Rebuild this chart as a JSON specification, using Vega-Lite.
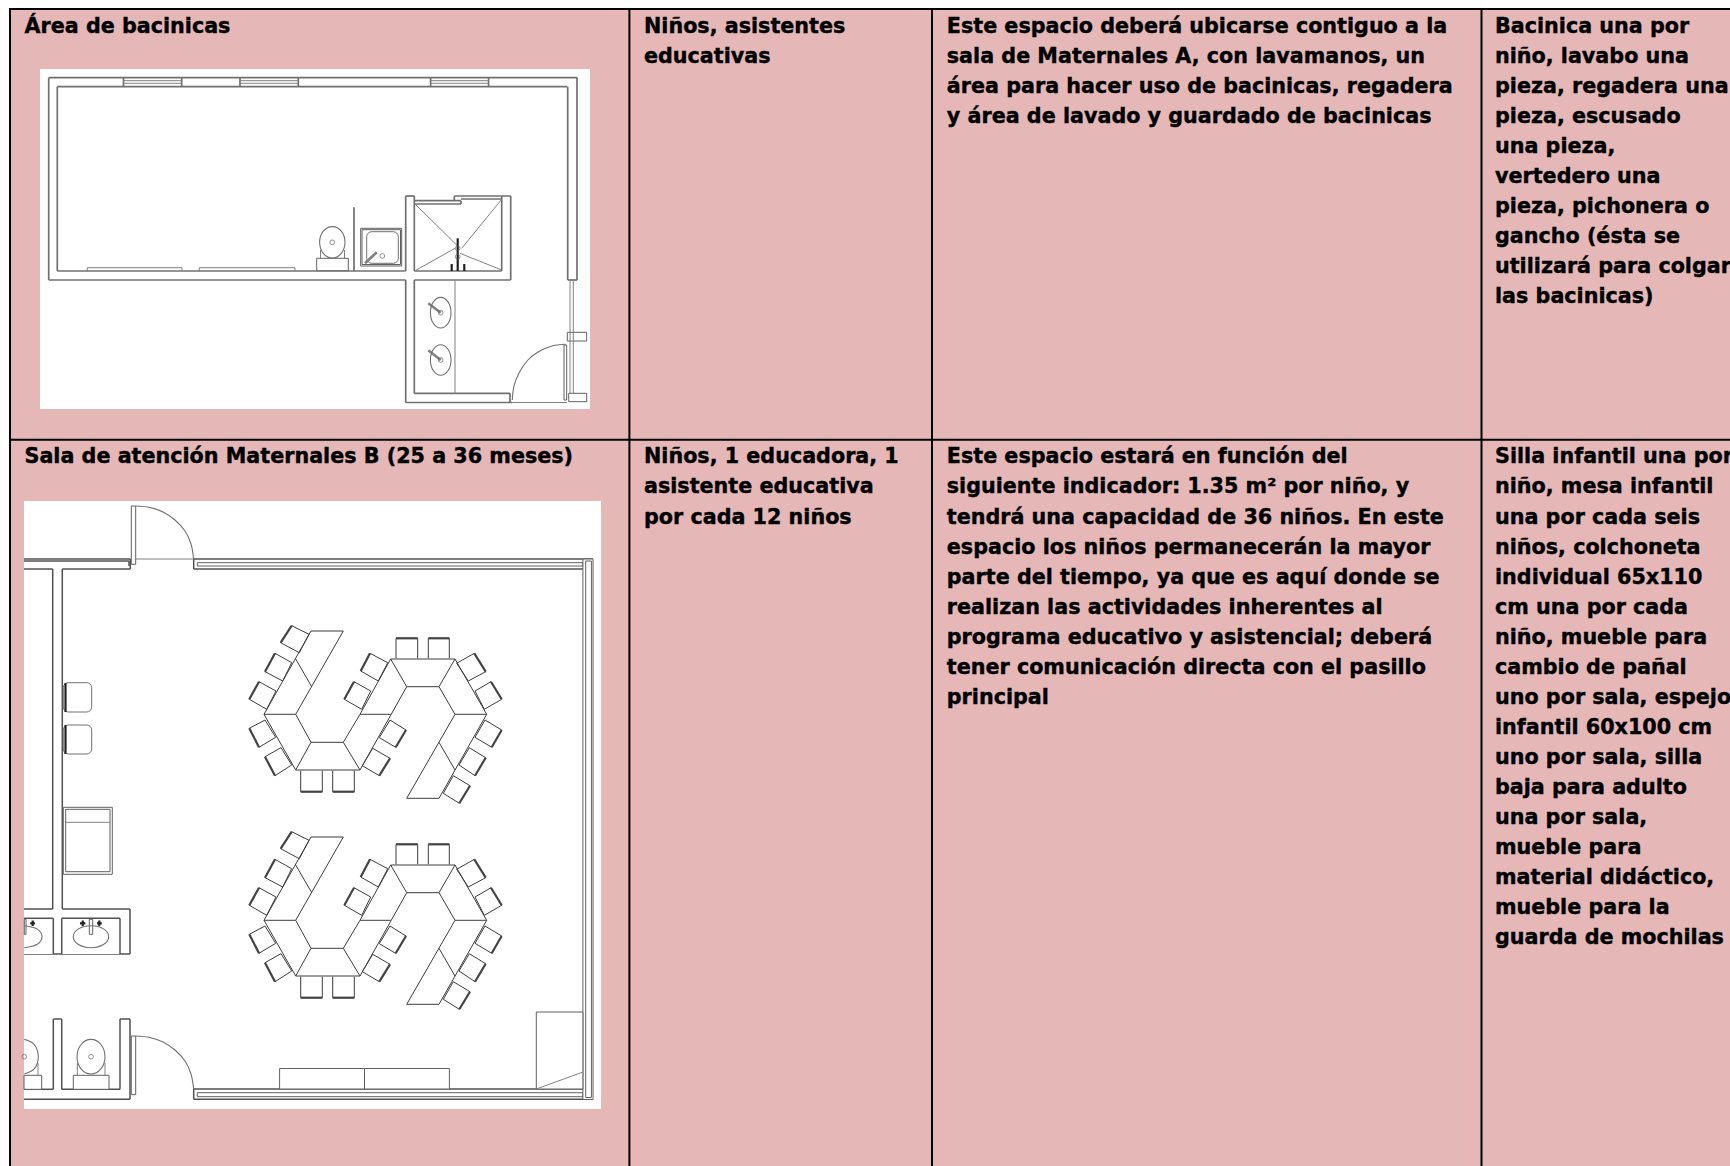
{"$schema":"https://vega.github.io/schema/vega-lite/v6.json","width":1730,"height":1166,"padding":0,"autosize":{"type":"fit","contains":"padding"},"background":"#ffffff","config":{"view":{"stroke":null}},
"datasets":{
"cells":[{"x":10,"x2":629.4,"y":9,"y2":440},{"x":629.4,"x2":932,"y":9,"y2":440},{"x":932,"x2":1481.5,"y":9,"y2":440},{"x":1481.5,"x2":1730,"y":9,"y2":440},{"x":10,"x2":629.4,"y":440,"y2":1166},{"x":629.4,"x2":932,"y":440,"y2":1166},{"x":932,"x2":1481.5,"y":440,"y2":1166},{"x":1481.5,"x2":1730,"y":440,"y2":1166}],
"grid":[{"x":9,"x2":1730,"y":9,"y2":9},{"x":9,"x2":1730,"y":439.7,"y2":439.7},{"x":10,"x2":10,"y":8,"y2":1166},{"x":629.4,"x2":629.4,"y":9,"y2":1166},{"x":932,"x2":932,"y":9,"y2":1166},{"x":1481.5,"x2":1481.5,"y":9,"y2":1166}],
"blanks":[{"x":40,"x2":590,"y":69,"y2":409},{"x":24,"x2":601,"y":501,"y2":1109}],
"walls":[{"x":48.7,"y":77.7,"x2":577.3,"y2":77.7},{"x":57.3,"y":86.7,"x2":567.3,"y2":86.7},{"x":123.5,"y":77.7,"x2":123.5,"y2":86.7},{"x":181.7,"y":77.7,"x2":181.7,"y2":86.7},{"x":240,"y":77.7,"x2":240,"y2":86.7},{"x":298.3,"y":77.7,"x2":298.3,"y2":86.7},{"x":430.6,"y":77.7,"x2":430.6,"y2":86.7},{"x":488.6,"y":77.7,"x2":488.6,"y2":86.7},{"x":48.7,"y":77.7,"x2":48.7,"y2":280},{"x":57.3,"y":86.7,"x2":57.3,"y2":271},{"x":48.7,"y":280,"x2":405.7,"y2":280},{"x":57.3,"y":271,"x2":405.7,"y2":271},{"x":405.7,"y":196,"x2":405.7,"y2":271},{"x":405.7,"y":280,"x2":405.7,"y2":402.5},{"x":414.3,"y":196,"x2":414.3,"y2":271},{"x":414.3,"y":280,"x2":414.3,"y2":393.3},{"x":405.7,"y":196,"x2":414.3,"y2":196},{"x":414.3,"y":271,"x2":501.7,"y2":271},{"x":414.3,"y":280,"x2":510.7,"y2":280},{"x":510.7,"y":196,"x2":510.7,"y2":280},{"x":501.7,"y":196,"x2":501.7,"y2":271},{"x":454.3,"y":196,"x2":510.7,"y2":196},{"x":414.3,"y":200.7,"x2":461,"y2":200.7},{"x":414.3,"y":204,"x2":461,"y2":204},{"x":461,"y":200.7,"x2":461,"y2":204},{"x":454.3,"y":196,"x2":454.3,"y2":200.7},{"x":461,"y":199,"x2":501.7,"y2":199},{"x":405.7,"y":402.5,"x2":512.3,"y2":402.5},{"x":414.3,"y":393.3,"x2":510,"y2":393.3},{"x":510,"y":393.3,"x2":510,"y2":402.5},{"x":567.7,"y":86.7,"x2":567.7,"y2":280},{"x":577,"y":77.7,"x2":577,"y2":280},{"x":567.7,"y":280,"x2":577,"y2":280},{"x":354,"y":207.3,"x2":354,"y2":271}],
"walls2":[{"x":24,"y":559,"x2":130.3,"y2":559},{"x":24,"y":561,"x2":129,"y2":561},{"x":24,"y":569,"x2":52.7,"y2":569},{"x":62.3,"y":569,"x2":130.3,"y2":569},{"x":130.3,"y":559,"x2":130.3,"y2":569},{"x":129,"y":561,"x2":129,"y2":566},{"x":193.7,"y":559,"x2":593,"y2":559},{"x":193.7,"y":559,"x2":193.7,"y2":569},{"x":193.7,"y":569,"x2":582.9,"y2":569},{"x":193.7,"y":1089,"x2":582.9,"y2":1089},{"x":193.7,"y":1089,"x2":193.7,"y2":1099.3},{"x":193.7,"y":1099.3,"x2":593,"y2":1099.3},{"x":52.7,"y":569,"x2":52.7,"y2":909},{"x":62.3,"y":569,"x2":62.3,"y2":909},{"x":24,"y":909,"x2":52.7,"y2":909},{"x":62.3,"y":909,"x2":130,"y2":909},{"x":130,"y":909,"x2":130,"y2":954},{"x":24,"y":918.3,"x2":53.3,"y2":918.3},{"x":61.7,"y":918.3,"x2":120,"y2":918.3},{"x":53.3,"y":918.3,"x2":53.3,"y2":954},{"x":61.7,"y":918.3,"x2":61.7,"y2":954},{"x":120,"y":918.3,"x2":120,"y2":954},{"x":53.3,"y":954,"x2":61.7,"y2":954},{"x":120,"y":954,"x2":130,"y2":954},{"x":53.3,"y":1019,"x2":53.3,"y2":1089.3},{"x":61.7,"y":1019,"x2":61.7,"y2":1089.3},{"x":53.3,"y":1019,"x2":61.7,"y2":1019},{"x":120,"y":1019,"x2":120,"y2":1089.3},{"x":130,"y":1019,"x2":130,"y2":1099.3},{"x":120,"y":1019,"x2":130,"y2":1019},{"x":24,"y":1089.3,"x2":53.3,"y2":1089.3},{"x":61.7,"y":1089.3,"x2":120,"y2":1089.3},{"x":24,"y":1099.3,"x2":130,"y2":1099.3}],
"thin":[{"x":135.7,"y":559,"x2":193.7,"y2":559},{"x":24,"y":954.5,"x2":130,"y2":954.5},{"x":512.3,"y":402.5,"x2":567,"y2":402.5},{"x":455,"y":280,"x2":455,"y2":393.3},{"x":570,"y":280,"x2":570,"y2":393},{"x":573.3,"y":280,"x2":573.3,"y2":393},{"x":414.3,"y":203.3,"x2":456.7,"y2":245},{"x":501.7,"y":199.3,"x2":461.7,"y2":248.3},{"x":415,"y":270.7,"x2":455,"y2":248.3},{"x":501.7,"y":270,"x2":460,"y2":253.3},{"x":320.5,"y":250,"x2":320.5,"y2":258.3},{"x":344.5,"y":250,"x2":344.5,"y2":258.3},{"x":77.3,"y":1063,"x2":77.3,"y2":1075.3},{"x":105,"y":1063,"x2":105,"y2":1075.3},{"x":38,"y":1063,"x2":38,"y2":1075.3},{"x":536.3,"y":1089,"x2":582.9,"y2":1072},{"x":87.3,"y":267.7,"x2":182,"y2":267.7},{"x":87.3,"y":267.7,"x2":87.3,"y2":271},{"x":182,"y":267.7,"x2":182,"y2":271},{"x":199.3,"y":267.7,"x2":295,"y2":267.7},{"x":199.3,"y":267.7,"x2":199.3,"y2":271},{"x":295,"y":267.7,"x2":295,"y2":271},{"x":65.7,"y":822.3,"x2":110,"y2":822.3},{"x":124,"y":80.7,"x2":181.7,"y2":80.7},{"x":124,"y":83.3,"x2":181.7,"y2":83.3},{"x":240.7,"y":80.7,"x2":298.3,"y2":80.7},{"x":240.7,"y":83.3,"x2":298.3,"y2":83.3},{"x":430.6,"y":80.7,"x2":488.6,"y2":80.7},{"x":430.6,"y":83.3,"x2":488.6,"y2":83.3}],
"thick":[{"x":365,"y":263.3,"x2":376.7,"y2":252.3},{"x":428.3,"y":303.3,"x2":440.7,"y2":312.7},{"x":428.3,"y":350.3,"x2":440.7,"y2":360}],
"heavy":[{"x":457.7,"y":238.3,"x2":457.7,"y2":271},{"x":451.7,"y":264,"x2":451.7,"y2":271},{"x":464.3,"y":264,"x2":464.3,"y2":271},{"x":65.5,"y":683,"x2":65.5,"y2":712},{"x":65.5,"y":725,"x2":65.5,"y2":754},{"x":80,"y":923.3,"x2":85.4,"y2":923.3},{"x":82.7,"y":920.5,"x2":82.7,"y2":926},{"x":97,"y":923.3,"x2":101.8,"y2":923.3},{"x":99.3,"y":920.5,"x2":99.3,"y2":926},{"x":30.3,"y":923.3,"x2":35,"y2":923.3},{"x":32.7,"y":920.5,"x2":32.7,"y2":926}],
"boxes":[{"x":567.3,"x2":586.7,"y":332.3,"y2":341},{"x":568.7,"x2":586.7,"y":393.3,"y2":401.7},{"x":564,"x2":566.7,"y":345,"y2":400},{"x":316.7,"x2":348.3,"y":258.3,"y2":270.7},{"x":360.7,"x2":401.7,"y":228.3,"y2":266},{"x":362,"x2":400.5,"y":229.7,"y2":264.5},{"x":63.3,"x2":112.3,"y":807.3,"y2":874.3},{"x":65.7,"x2":110,"y":809.3,"y2":871.7},{"x":131.3,"x2":135.7,"y":506,"y2":564.3},{"x":131.3,"x2":135.7,"y":1036,"y2":1094.7},{"x":73.3,"x2":109,"y":1075.3,"y2":1089.3},{"x":24,"x2":41.7,"y":1075.3,"y2":1089.3},{"x":89.3,"x2":92.7,"y":919.3,"y2":934.3},{"x":24.3,"x2":26,"y":919.3,"y2":934.3},{"x":197.3,"x2":582.9,"y":562.7,"y2":566},{"x":197.3,"x2":582.9,"y":1092.7,"y2":1096.7},{"x":582.9,"x2":593,"y":559,"y2":1099.5},{"x":585.7,"x2":591.4,"y":561,"y2":1097.5},{"x":536.3,"x2":582.9,"y":1012,"y2":1089},{"x":279.6,"x2":364.5,"y":1068.5,"y2":1089},{"x":364.5,"x2":449.4,"y":1068.5,"y2":1089}],
"rounded":[{"x":366.7,"x2":398.3,"y":231.7,"y2":263.3},{"x":63.3,"x2":91.7,"y":682.7,"y2":712},{"x":63.3,"x2":91.7,"y":725,"y2":754}],
"ovals":[{"id":"a","i":1,"x":345,"y":242.3},{"id":"a","i":2,"x":341.3,"y":253.4},{"id":"a","i":3,"x":332.3,"y":258},{"id":"a","i":4,"x":323.3,"y":253.4},{"id":"a","i":5,"x":319.6,"y":242.3},{"id":"a","i":6,"x":323.3,"y":231.2},{"id":"a","i":7,"x":332.3,"y":226.6},{"id":"a","i":8,"x":341.3,"y":231.2},
{"id":"b","i":1,"x":451,"y":312.7},{"id":"b","i":2,"x":448,"y":323.5},{"id":"b","i":3,"x":440.7,"y":328},{"id":"b","i":4,"x":433.4,"y":323.5},{"id":"b","i":5,"x":430.4,"y":312.7},{"id":"b","i":6,"x":433.4,"y":301.9},{"id":"b","i":7,"x":440.7,"y":297.4},{"id":"b","i":8,"x":448,"y":301.9},
{"id":"c","i":1,"x":451,"y":360},{"id":"c","i":2,"x":448,"y":370.8},{"id":"c","i":3,"x":440.7,"y":375.3},{"id":"c","i":4,"x":433.4,"y":370.8},{"id":"c","i":5,"x":430.4,"y":360},{"id":"c","i":6,"x":433.4,"y":349.2},{"id":"c","i":7,"x":440.7,"y":344.7},{"id":"c","i":8,"x":448,"y":349.2},
{"id":"d","i":1,"x":108.7,"y":936.7},{"id":"d","i":2,"x":103.5,"y":944.5},{"id":"d","i":3,"x":91,"y":947.7},{"id":"d","i":4,"x":78.5,"y":944.5},{"id":"d","i":5,"x":73.3,"y":936.7},{"id":"d","i":6,"x":78.5,"y":928.9},{"id":"d","i":7,"x":91,"y":925.7},{"id":"d","i":8,"x":103.5,"y":928.9},
{"id":"e","i":1,"x":105,"y":1056.7},{"id":"e","i":2,"x":100.9,"y":1068.9},{"id":"e","i":3,"x":91,"y":1074},{"id":"e","i":4,"x":81.1,"y":1068.9},{"id":"e","i":5,"x":77,"y":1056.7},{"id":"e","i":6,"x":81.1,"y":1044.5},{"id":"e","i":7,"x":91,"y":1039.4},{"id":"e","i":8,"x":100.9,"y":1044.5}],
"arcs":[{"id":"a","i":1,"x":565.7,"y":344.3},{"id":"a","i":2,"x":552,"y":346},{"id":"a","i":3,"x":538,"y":352},{"id":"a","i":4,"x":527,"y":361},{"id":"a","i":5,"x":519,"y":373},{"id":"a","i":6,"x":514,"y":386},{"id":"a","i":7,"x":512.3,"y":400},
{"id":"b","i":1,"x":135.7,"y":506},{"id":"b","i":2,"x":150,"y":507.5},{"id":"b","i":3,"x":163,"y":512},{"id":"b","i":4,"x":175,"y":520},{"id":"b","i":5,"x":185,"y":531},{"id":"b","i":6,"x":191,"y":544},{"id":"b","i":7,"x":193.7,"y":559},
{"id":"c","i":1,"x":135.7,"y":1036},{"id":"c","i":2,"x":150,"y":1037.5},{"id":"c","i":3,"x":163,"y":1042},{"id":"c","i":4,"x":175,"y":1050},{"id":"c","i":5,"x":185,"y":1061},{"id":"c","i":6,"x":191,"y":1074},{"id":"c","i":7,"x":193.7,"y":1089},
{"id":"d","i":1,"x":24.3,"y":925.7},{"id":"d","i":2,"x":36.8,"y":928.9},{"id":"d","i":3,"x":42,"y":936.7},{"id":"d","i":4,"x":36.8,"y":944.5},{"id":"d","i":5,"x":24.3,"y":947.7},
{"id":"e","i":1,"x":24.3,"y":1039.4},{"id":"e","i":2,"x":34.2,"y":1044.5},{"id":"e","i":3,"x":38.3,"y":1056.7},{"id":"e","i":4,"x":34.2,"y":1068.9},{"id":"e","i":5,"x":24.3,"y":1074}],
"dots":[{"x":332.3,"y":242.3},{"x":91,"y":1056.7},{"x":24.3,"y":1056.7},{"x":382.3,"y":256},{"x":457.7,"y":248.3},{"x":457.7,"y":256.7},{"x":440.7,"y":312.7},{"x":440.7,"y":360}],
"furn":[
{"x":311,"y":631,"x2":343.3,"y2":631},{"x":343.3,"y":631,"x2":295.7,"y2":714.3},{"x":311,"y":631,"x2":264,"y2":714.3},{"x":264,"y":714.3,"x2":295.7,"y2":714.3},{"x":295.7,"y":659,"x2":311.7,"y2":686.7},{"x":264,"y":714.3,"x2":295.7,"y2":770},{"x":295.7,"y":714.3,"x2":311,"y2":742.3},{"x":311,"y":742.3,"x2":343.3,"y2":742.3},{"x":343.3,"y":742.3,"x2":360,"y2":714.3},{"x":311,"y":742.3,"x2":295.7,"y2":770},{"x":343.3,"y":742.3,"x2":360,"y2":770},{"x":295.7,"y":770,"x2":360,"y2":770},{"x":360,"y":770,"x2":406.7,"y2":686.7},{"x":360,"y":714.3,"x2":390.7,"y2":659},{"x":360,"y":714.3,"x2":390.7,"y2":714.3},{"x":390.7,"y":659,"x2":455,"y2":659},{"x":406.7,"y":686.7,"x2":439,"y2":686.7},{"x":390.7,"y":659,"x2":406.7,"y2":686.7},{"x":439,"y":686.7,"x2":455,"y2":659},{"x":455,"y":659,"x2":486.7,"y2":714.3},{"x":439,"y":686.7,"x2":455,"y2":714.3},{"x":455,"y":714.3,"x2":486.7,"y2":714.3},{"x":455,"y":714.3,"x2":406.7,"y2":798.3},{"x":486.7,"y":714.3,"x2":439,"y2":798.3},{"x":406.7,"y":798.3,"x2":439,"y2":798.3},{"x":439,"y":742.3,"x2":455,"y2":770},
{"x":311,"y":837,"x2":343.3,"y2":837},{"x":343.3,"y":837,"x2":295.7,"y2":920.3},{"x":311,"y":837,"x2":264,"y2":920.3},{"x":264,"y":920.3,"x2":295.7,"y2":920.3},{"x":295.7,"y":865,"x2":311.7,"y2":892.7},{"x":264,"y":920.3,"x2":295.7,"y2":976},{"x":295.7,"y":920.3,"x2":311,"y2":948.3},{"x":311,"y":948.3,"x2":343.3,"y2":948.3},{"x":343.3,"y":948.3,"x2":360,"y2":920.3},{"x":311,"y":948.3,"x2":295.7,"y2":976},{"x":343.3,"y":948.3,"x2":360,"y2":976},{"x":295.7,"y":976,"x2":360,"y2":976},{"x":360,"y":976,"x2":406.7,"y2":892.7},{"x":360,"y":920.3,"x2":390.7,"y2":865},{"x":360,"y":920.3,"x2":390.7,"y2":920.3},{"x":390.7,"y":865,"x2":455,"y2":865},{"x":406.7,"y":892.7,"x2":439,"y2":892.7},{"x":390.7,"y":865,"x2":406.7,"y2":892.7},{"x":439,"y":892.7,"x2":455,"y2":865},{"x":455,"y":865,"x2":486.7,"y2":920.3},{"x":439,"y":892.7,"x2":455,"y2":920.3},{"x":455,"y":920.3,"x2":486.7,"y2":920.3},{"x":455,"y":920.3,"x2":406.7,"y2":1004.3},{"x":486.7,"y":920.3,"x2":439,"y2":1004.3},{"x":406.7,"y":1004.3,"x2":439,"y2":1004.3},{"x":439,"y":948.3,"x2":455,"y2":976},
{"x":291.7,"y":625.7,"x2":309,"y2":634.3},{"x":309,"y":634.3,"x2":299.3,"y2":652.7},{"x":299.3,"y":652.7,"x2":280.7,"y2":642.7},{"x":280.7,"y":642.7,"x2":291.7,"y2":625.7},
{"x":275,"y":653.3,"x2":291.7,"y2":662.7},{"x":291.7,"y":662.7,"x2":282.7,"y2":681},{"x":282.7,"y":681,"x2":265,"y2":671.7},{"x":265,"y":671.7,"x2":275,"y2":653.3},
{"x":259,"y":681.7,"x2":276,"y2":691},{"x":276,"y":691,"x2":266.7,"y2":709.3},{"x":266.7,"y":709.3,"x2":249.3,"y2":699.3},{"x":249.3,"y":699.3,"x2":259,"y2":681.7},
{"x":249.3,"y":728.3,"x2":265,"y2":720},{"x":265,"y":720,"x2":275.7,"y2":737.3},{"x":275.7,"y":737.3,"x2":259,"y2":747.3},{"x":259,"y":747.3,"x2":249.3,"y2":728.3},
{"x":265,"y":756.7,"x2":281,"y2":747.7},{"x":281,"y":747.7,"x2":291.7,"y2":765},{"x":291.7,"y":765,"x2":275,"y2":775.7},{"x":275,"y":775.7,"x2":265,"y2":756.7},
{"x":300.7,"y":770.7,"x2":300.7,"y2":791.7},{"x":322.3,"y":770.7,"x2":322.3,"y2":791.7},{"x":300.7,"y":791.7,"x2":322.3,"y2":791.7},
{"x":332.7,"y":770.7,"x2":332.7,"y2":791.7},{"x":354.3,"y":770.7,"x2":354.3,"y2":791.7},{"x":332.7,"y":791.7,"x2":354.3,"y2":791.7},
{"x":362.3,"y":765.7,"x2":372.7,"y2":748.3},{"x":372.7,"y":748.3,"x2":390,"y2":758.3},{"x":390,"y":758.3,"x2":379.3,"y2":775.7},{"x":379.3,"y":775.7,"x2":362.3,"y2":765.7},
{"x":379.3,"y":737.7,"x2":390,"y2":720},{"x":390,"y":720,"x2":406,"y2":730},{"x":406,"y":730,"x2":395.7,"y2":747.3},{"x":395.7,"y":747.3,"x2":379.3,"y2":737.7},
{"x":370,"y":653.3,"x2":387.7,"y2":662.7},{"x":387.7,"y":662.7,"x2":378.3,"y2":681},{"x":378.3,"y":681,"x2":360.7,"y2":671},{"x":360.7,"y":671,"x2":370,"y2":653.3},
{"x":354,"y":681.7,"x2":370.7,"y2":691},{"x":370.7,"y":691,"x2":361.7,"y2":709.3},{"x":361.7,"y":709.3,"x2":344.3,"y2":699.3},{"x":344.3,"y":699.3,"x2":354,"y2":681.7},
{"x":396,"y":638.3,"x2":396,"y2":658.3},{"x":417.7,"y":638.3,"x2":417.7,"y2":658.3},{"x":396,"y":638.3,"x2":417.7,"y2":638.3},
{"x":428.3,"y":638.3,"x2":428.3,"y2":658.3},{"x":449.3,"y":638.3,"x2":449.3,"y2":658.3},{"x":428.3,"y":638.3,"x2":449.3,"y2":638.3},
{"x":456.7,"y":663.3,"x2":474.3,"y2":653.3},{"x":474.3,"y":653.3,"x2":485.7,"y2":671.7},{"x":485.7,"y":671.7,"x2":468.3,"y2":681},{"x":468.3,"y":681,"x2":456.7,"y2":663.3},
{"x":475,"y":691,"x2":491,"y2":681.7},{"x":491,"y":681.7,"x2":501.7,"y2":699.3},{"x":501.7,"y":699.3,"x2":484.3,"y2":709.3},{"x":484.3,"y":709.3,"x2":475,"y2":691},
{"x":475,"y":737.3,"x2":485,"y2":720},{"x":485,"y":720,"x2":501.7,"y2":730},{"x":501.7,"y":730,"x2":491.7,"y2":747.3},{"x":491.7,"y":747.3,"x2":475,"y2":737.3},
{"x":459,"y":765,"x2":469.3,"y2":747.7},{"x":469.3,"y":747.7,"x2":485.7,"y2":757.7},{"x":485.7,"y":757.7,"x2":475,"y2":775.7},{"x":475,"y":775.7,"x2":459,"y2":765},
{"x":443.3,"y":793.3,"x2":453.3,"y2":775.7},{"x":453.3,"y":775.7,"x2":470,"y2":785.7},{"x":470,"y":785.7,"x2":459.3,"y2":803.3},{"x":459.3,"y":803.3,"x2":443.3,"y2":793.3},
{"x":291.7,"y":831.7,"x2":309,"y2":840.3},{"x":309,"y":840.3,"x2":299.3,"y2":858.7},{"x":299.3,"y":858.7,"x2":280.7,"y2":848.7},{"x":280.7,"y":848.7,"x2":291.7,"y2":831.7},
{"x":275,"y":859.3,"x2":291.7,"y2":868.7},{"x":291.7,"y":868.7,"x2":282.7,"y2":887},{"x":282.7,"y":887,"x2":265,"y2":877.7},{"x":265,"y":877.7,"x2":275,"y2":859.3},
{"x":259,"y":887.7,"x2":276,"y2":897},{"x":276,"y":897,"x2":266.7,"y2":915.3},{"x":266.7,"y":915.3,"x2":249.3,"y2":905.3},{"x":249.3,"y":905.3,"x2":259,"y2":887.7},
{"x":249.3,"y":934.3,"x2":265,"y2":926},{"x":265,"y":926,"x2":275.7,"y2":943.3},{"x":275.7,"y":943.3,"x2":259,"y2":953.3},{"x":259,"y":953.3,"x2":249.3,"y2":934.3},
{"x":265,"y":962.7,"x2":281,"y2":953.7},{"x":281,"y":953.7,"x2":291.7,"y2":971},{"x":291.7,"y":971,"x2":275,"y2":981.7},{"x":275,"y":981.7,"x2":265,"y2":962.7},
{"x":300.7,"y":976.7,"x2":300.7,"y2":997.7},{"x":322.3,"y":976.7,"x2":322.3,"y2":997.7},{"x":300.7,"y":997.7,"x2":322.3,"y2":997.7},
{"x":332.7,"y":976.7,"x2":332.7,"y2":997.7},{"x":354.3,"y":976.7,"x2":354.3,"y2":997.7},{"x":332.7,"y":997.7,"x2":354.3,"y2":997.7},
{"x":362.3,"y":971.7,"x2":372.7,"y2":954.3},{"x":372.7,"y":954.3,"x2":390,"y2":964.3},{"x":390,"y":964.3,"x2":379.3,"y2":981.7},{"x":379.3,"y":981.7,"x2":362.3,"y2":971.7},
{"x":379.3,"y":943.7,"x2":390,"y2":926},{"x":390,"y":926,"x2":406,"y2":936},{"x":406,"y":936,"x2":395.7,"y2":953.3},{"x":395.7,"y":953.3,"x2":379.3,"y2":943.7},
{"x":370,"y":859.3,"x2":387.7,"y2":868.7},{"x":387.7,"y":868.7,"x2":378.3,"y2":887},{"x":378.3,"y":887,"x2":360.7,"y2":877},{"x":360.7,"y":877,"x2":370,"y2":859.3},
{"x":354,"y":887.7,"x2":370.7,"y2":897},{"x":370.7,"y":897,"x2":361.7,"y2":915.3},{"x":361.7,"y":915.3,"x2":344.3,"y2":905.3},{"x":344.3,"y":905.3,"x2":354,"y2":887.7},
{"x":396,"y":844.3,"x2":396,"y2":864.3},{"x":417.7,"y":844.3,"x2":417.7,"y2":864.3},{"x":396,"y":844.3,"x2":417.7,"y2":844.3},
{"x":428.3,"y":844.3,"x2":428.3,"y2":864.3},{"x":449.3,"y":844.3,"x2":449.3,"y2":864.3},{"x":428.3,"y":844.3,"x2":449.3,"y2":844.3},
{"x":456.7,"y":869.3,"x2":474.3,"y2":859.3},{"x":474.3,"y":859.3,"x2":485.7,"y2":877.7},{"x":485.7,"y":877.7,"x2":468.3,"y2":887},{"x":468.3,"y":887,"x2":456.7,"y2":869.3},
{"x":475,"y":897,"x2":491,"y2":887.7},{"x":491,"y":887.7,"x2":501.7,"y2":905.3},{"x":501.7,"y":905.3,"x2":484.3,"y2":915.3},{"x":484.3,"y":915.3,"x2":475,"y2":897},
{"x":475,"y":943.3,"x2":485,"y2":926},{"x":485,"y":926,"x2":501.7,"y2":936},{"x":501.7,"y":936,"x2":491.7,"y2":953.3},{"x":491.7,"y":953.3,"x2":475,"y2":943.3},
{"x":459,"y":971,"x2":469.3,"y2":953.7},{"x":469.3,"y":953.7,"x2":485.7,"y2":963.7},{"x":485.7,"y":963.7,"x2":475,"y2":981.7},{"x":475,"y":981.7,"x2":459,"y2":971},
{"x":443.3,"y":999.3,"x2":453.3,"y2":981.7},{"x":453.3,"y":981.7,"x2":470,"y2":991.7},{"x":470,"y":991.7,"x2":459.3,"y2":1009.3},{"x":459.3,"y":1009.3,"x2":443.3,"y2":999.3}],
"backs":[{"x":291.7,"y":625.7,"x2":280.7,"y2":642.7},{"x":275,"y":653.3,"x2":265,"y2":671.7},{"x":259,"y":681.7,"x2":249.3,"y2":699.3},{"x":249.3,"y":728.3,"x2":259,"y2":747.3},{"x":265,"y":756.7,"x2":275,"y2":775.7},{"x":300.7,"y":791.7,"x2":322.3,"y2":791.7},{"x":332.7,"y":791.7,"x2":354.3,"y2":791.7},{"x":390,"y":758.3,"x2":379.3,"y2":775.7},{"x":406,"y":730,"x2":395.7,"y2":747.3},{"x":370,"y":653.3,"x2":360.7,"y2":671},{"x":354,"y":681.7,"x2":344.3,"y2":699.3},{"x":396,"y":638.3,"x2":417.7,"y2":638.3},{"x":428.3,"y":638.3,"x2":449.3,"y2":638.3},{"x":474.3,"y":653.3,"x2":485.7,"y2":671.7},{"x":491,"y":681.7,"x2":501.7,"y2":699.3},{"x":501.7,"y":730,"x2":491.7,"y2":747.3},{"x":485.7,"y":757.7,"x2":475,"y2":775.7},{"x":470,"y":785.7,"x2":459.3,"y2":803.3},
{"x":291.7,"y":831.7,"x2":280.7,"y2":848.7},{"x":275,"y":859.3,"x2":265,"y2":877.7},{"x":259,"y":887.7,"x2":249.3,"y2":905.3},{"x":249.3,"y":934.3,"x2":259,"y2":953.3},{"x":265,"y":962.7,"x2":275,"y2":981.7},{"x":300.7,"y":997.7,"x2":322.3,"y2":997.7},{"x":332.7,"y":997.7,"x2":354.3,"y2":997.7},{"x":390,"y":964.3,"x2":379.3,"y2":981.7},{"x":406,"y":936,"x2":395.7,"y2":953.3},{"x":370,"y":859.3,"x2":360.7,"y2":877},{"x":354,"y":887.7,"x2":344.3,"y2":905.3},{"x":396,"y":844.3,"x2":417.7,"y2":844.3},{"x":428.3,"y":844.3,"x2":449.3,"y2":844.3},{"x":474.3,"y":859.3,"x2":485.7,"y2":877.7},{"x":491,"y":887.7,"x2":501.7,"y2":905.3},{"x":501.7,"y":936,"x2":491.7,"y2":953.3},{"x":485.7,"y":963.7,"x2":475,"y2":981.7},{"x":470,"y":991.7,"x2":459.3,"y2":1009.3}],
"text":[{"x":24.5,"y":33,"t":"Área de bacinicas"},{"x":24.5,"y":463,"t":"Sala de atención Maternales B (25 a 36 meses)"},
{"x":644,"y":33,"t":"Niños, asistentes"},{"x":644,"y":63,"t":"educativas"},{"x":644,"y":463,"t":"Niños, 1 educadora, 1"},{"x":644,"y":493,"t":"asistente educativa"},{"x":644,"y":524,"t":"por cada 12 niños"},
{"x":946.8,"y":33,"t":"Este espacio deberá ubicarse contiguo a la"},{"x":946.8,"y":63,"t":"sala de Maternales A, con lavamanos, un"},{"x":946.8,"y":93,"t":"área para hacer uso de bacinicas, regadera"},{"x":946.8,"y":123,"t":"y área de lavado y guardado de bacinicas"},
{"x":946.8,"y":463,"t":"Este espacio estará en función del"},{"x":946.8,"y":493,"t":"siguiente indicador: 1.35 m² por niño, y"},{"x":946.8,"y":524,"t":"tendrá una capacidad de 36 niños. En este"},{"x":946.8,"y":554,"t":"espacio los niños permanecerán la mayor"},{"x":946.8,"y":584,"t":"parte del tiempo, ya que es aquí donde se"},{"x":946.8,"y":614,"t":"realizan las actividades inherentes al"},{"x":946.8,"y":644,"t":"programa educativo y asistencial; deberá"},{"x":946.8,"y":674,"t":"tener comunicación directa con el pasillo"},{"x":946.8,"y":704,"t":"principal"},
{"x":1495,"y":33,"t":"Bacinica una por"},{"x":1495,"y":63,"t":"niño, lavabo una"},{"x":1495,"y":93,"t":"pieza, regadera una"},{"x":1495,"y":123,"t":"pieza, escusado"},{"x":1495,"y":153,"t":"una pieza,"},{"x":1495,"y":183,"t":"vertedero una"},{"x":1495,"y":213,"t":"pieza, pichonera o"},{"x":1495,"y":243,"t":"gancho (ésta se"},{"x":1495,"y":273,"t":"utilizará para colgar"},{"x":1495,"y":303,"t":"las bacinicas)"},
{"x":1495,"y":463,"t":"Silla infantil una por"},{"x":1495,"y":493,"t":"niño, mesa infantil"},{"x":1495,"y":524,"t":"una por cada seis"},{"x":1495,"y":554,"t":"niños, colchoneta"},{"x":1495,"y":584,"t":"individual 65x110"},{"x":1495,"y":614,"t":"cm una por cada"},{"x":1495,"y":644,"t":"niño, mueble para"},{"x":1495,"y":674,"t":"cambio de pañal"},{"x":1495,"y":704,"t":"uno por sala, espejo"},{"x":1495,"y":734,"t":"infantil 60x100 cm"},{"x":1495,"y":764,"t":"uno por sala, silla"},{"x":1495,"y":794,"t":"baja para adulto"},{"x":1495,"y":824,"t":"una por sala,"},{"x":1495,"y":854,"t":"mueble para"},{"x":1495,"y":884,"t":"material didáctico,"},{"x":1495,"y":914,"t":"mueble para la"},{"x":1495,"y":944,"t":"guarda de mochilas"}]
},
"encoding":{"x":{"field":"x","type":"quantitative","axis":null,"scale":{"domain":[0,1730],"range":[0,1730],"nice":false,"zero":false}},"y":{"field":"y","type":"quantitative","axis":null,"scale":{"domain":[0,1166],"range":[0,1166],"nice":false,"zero":false}}},
"layer":[
{"data":{"name":"cells"},"mark":{"type":"rect","fill":"#e5b8b7"},"encoding":{"x2":{"field":"x2"},"y2":{"field":"y2"}}},
{"data":{"name":"grid"},"mark":{"type":"rule","stroke":"#000000","strokeWidth":2},"encoding":{"x2":{"field":"x2"},"y2":{"field":"y2"}}},
{"data":{"name":"blanks"},"mark":{"type":"rect","fill":"#ffffff"},"encoding":{"x2":{"field":"x2"},"y2":{"field":"y2"}}},
{"data":{"name":"walls"},"mark":{"type":"rule","stroke":"#707070","strokeWidth":1.7},"encoding":{"x2":{"field":"x2"},"y2":{"field":"y2"}}},
{"data":{"name":"walls2"},"mark":{"type":"rule","stroke":"#505050","strokeWidth":1.5},"encoding":{"x2":{"field":"x2"},"y2":{"field":"y2"}}},
{"data":{"name":"boxes"},"mark":{"type":"rect","fill":"#ffffff","stroke":"#606060","strokeWidth":1},"encoding":{"x2":{"field":"x2"},"y2":{"field":"y2"}}},
{"data":{"name":"rounded"},"mark":{"type":"rect","fill":"#ffffff","stroke":"#707070","strokeWidth":1,"cornerRadius":5},"encoding":{"x2":{"field":"x2"},"y2":{"field":"y2"}}},
{"data":{"name":"thin"},"mark":{"type":"rule","stroke":"#808080","strokeWidth":1},"encoding":{"x2":{"field":"x2"},"y2":{"field":"y2"}}},
{"data":{"name":"thick"},"mark":{"type":"rule","stroke":"#808080","strokeWidth":2.6},"encoding":{"x2":{"field":"x2"},"y2":{"field":"y2"}}},
{"data":{"name":"heavy"},"mark":{"type":"rule","stroke":"#222222","strokeWidth":2.2},"encoding":{"x2":{"field":"x2"},"y2":{"field":"y2"}}},
{"data":{"name":"ovals"},"mark":{"type":"line","stroke":"#707070","strokeWidth":1.1,"interpolate":"cardinal-closed"},"encoding":{"detail":{"field":"id"},"order":{"field":"i","type":"quantitative"}}},
{"data":{"name":"arcs"},"mark":{"type":"line","stroke":"#707070","strokeWidth":1.1,"interpolate":"cardinal"},"encoding":{"detail":{"field":"id"},"order":{"field":"i","type":"quantitative"}}},
{"data":{"name":"dots"},"mark":{"type":"point","shape":"circle","filled":false,"stroke":"#606060","strokeWidth":1,"size":22}},
{"data":{"name":"furn"},"mark":{"type":"rule","stroke":"#3c3c3c","strokeWidth":1},"encoding":{"x2":{"field":"x2"},"y2":{"field":"y2"}}},
{"data":{"name":"backs"},"mark":{"type":"rule","stroke":"#444444","strokeWidth":2.2},"encoding":{"x2":{"field":"x2"},"y2":{"field":"y2"}}},
{"data":{"name":"text"},"mark":{"type":"text","font":"DejaVu Sans","fontWeight":"bold","fontSize":20.7,"align":"left","baseline":"alphabetic","fill":"#000000","stroke":"#000000","strokeWidth":0.4},"encoding":{"text":{"field":"t"}}}
]}
